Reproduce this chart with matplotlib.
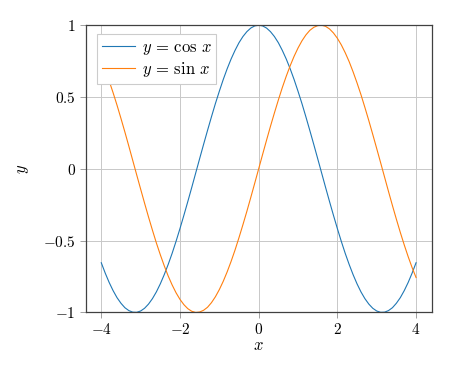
import matplotlib
matplotlib.use("Agg")
import matplotlib.pyplot as plt

# Werte, Schrittweite 0.1
x_werte = [-4.0, -3.9, -3.8, -3.7, -3.6, -3.5, -3.4, -3.3, -3.2, -3.1,
           -3.0, -2.9, -2.8, -2.7, -2.6, -2.5, -2.4, -2.3, -2.2, -2.1,
           -2.0, -1.9, -1.8, -1.7, -1.6, -1.5, -1.4, -1.3, -1.2, -1.1,
           -1.0, -0.9, -0.8, -0.7, -0.6, -0.5, -0.4, -0.3, -0.2, -0.1,
           0.0, 0.1, 0.2, 0.3, 0.4, 0.5, 0.6, 0.7, 0.8, 0.9,
           1.0, 1.1, 1.2, 1.3, 1.4, 1.5, 1.6, 1.7, 1.8, 1.9,
           2.0, 2.1, 2.2, 2.3, 2.4, 2.5, 2.6, 2.7, 2.8, 2.9,
           3.0, 3.1, 3.2, 3.3, 3.4, 3.5, 3.6, 3.7, 3.8, 3.9, 4.0]

cos_werte = [-0.654, -0.726, -0.791, -0.848, -0.897, -0.936, -0.967, -0.987, -0.998, -0.999,
             -0.990, -0.971, -0.942, -0.904, -0.857, -0.801, -0.737, -0.666, -0.589, -0.505,
             -0.416, -0.323, -0.227, -0.129, -0.029, 0.071, 0.170, 0.267, 0.362, 0.454,
             0.540, 0.622, 0.697, 0.765, 0.825, 0.878, 0.921, 0.955, 0.980, 0.995,
             1.000, 0.995, 0.980, 0.955, 0.921, 0.878, 0.825, 0.765, 0.697, 0.622,
             0.540, 0.454, 0.362, 0.267, 0.170, 0.071, -0.029, -0.129, -0.227, -0.323,
             -0.416, -0.505, -0.589, -0.666, -0.737, -0.801, -0.857, -0.904, -0.942, -0.971,
             -0.990, -0.999, -0.998, -0.987, -0.967, -0.936, -0.897, -0.848, -0.791, -0.726, -0.654]

sin_werte = [0.757, 0.688, 0.612, 0.530, 0.443, 0.351, 0.256, 0.158, 0.058, -0.042,
             -0.141, -0.239, -0.335, -0.427, -0.516, -0.598, -0.675, -0.746, -0.808, -0.863,
             -0.909, -0.946, -0.974, -0.992, -1.000, -0.997, -0.985, -0.964, -0.932, -0.891,
             -0.841, -0.783, -0.717, -0.644, -0.565, -0.479, -0.389, -0.296, -0.199, -0.100,
             0.000, 0.100, 0.199, 0.296, 0.389, 0.479, 0.565, 0.644, 0.717, 0.783,
             0.841, 0.891, 0.932, 0.964, 0.985, 0.997, 1.000, 0.992, 0.974, 0.946,
             0.909, 0.863, 0.808, 0.746, 0.675, 0.598, 0.516, 0.427, 0.335, 0.239,
             0.141, 0.042, -0.058, -0.158, -0.256, -0.351, -0.443, -0.530, -0.612, -0.688, -0.757]

x_ticks = [-4, -2, 0, 2, 4]
x_tick_labels = ["$-4$", "$-2$", "$0$", "$2$", "$4$"]
y_ticks = [-1, -0.5, 0, 0.5, 1]
y_tick_labels = ["$-1$", "$-0.5$", "$0$", "$0.5$", "$1$"]

plt.rcParams['mathtext.fontset'] = 'cm'
plt.rcParams['font.family'] = 'serif'
plt.rcParams['font.size'] = 11

fig = plt.figure(figsize=(4.55, 3.65), dpi=100)
ax = fig.add_axes([0.188, 0.144, 0.761, 0.787])

ax.plot(x_werte, cos_werte, color='#1f77b4', lw=0.8, label=r'$y\,=\,\cos\,x$')
ax.plot(x_werte, sin_werte, color='#ff7f0e', lw=0.8, label=r'$y\,=\,\sin\,x$')

ax.set_xlim(-4.4, 4.4)
ax.set_ylim(-1, 1)
ax.set_xticks(x_ticks)
ax.set_xticklabels(x_tick_labels)
ax.set_yticks(y_ticks)
ax.set_yticklabels(y_tick_labels)

ax.grid(True, color='#c8c8c8', lw=0.7)
ax.set_axisbelow(True)
ax.tick_params(direction='out', length=4, width=0.7, color='#a0a0a0', labelsize=11, pad=3)
for s in ax.spines.values():
    s.set_color('#404040')
    s.set_linewidth(0.9)

ax.set_xlabel('$x$', fontsize=12, labelpad=0)
ax.set_ylabel('$y$', fontsize=12, labelpad=9)

leg = ax.legend(loc='upper left', bbox_to_anchor=(0.032, 0.97), borderaxespad=0,
                fancybox=False, framealpha=1, edgecolor='#cccccc', fontsize=12,
                handlelength=2.0, handletextpad=0.4, borderpad=0.3, labelspacing=0.2)
leg.get_frame().set_linewidth(0.8)

fig.savefig('out.png', dpi=100)
